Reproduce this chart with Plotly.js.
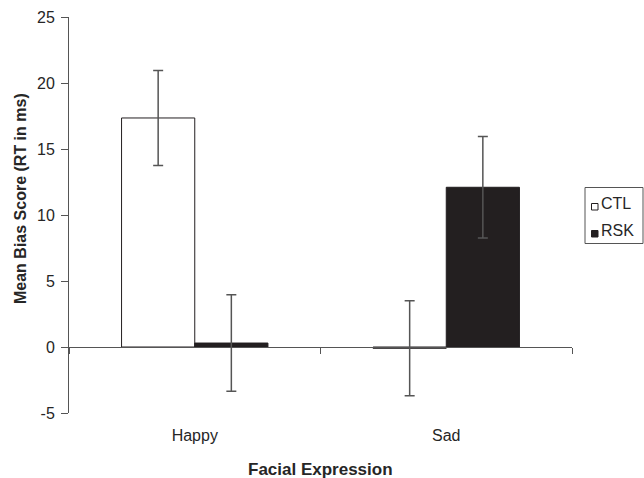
<!DOCTYPE html>
<html><head><meta charset="utf-8">
<script src="https://cdn.plot.ly/plotly-3.0.1.min.js"></script>
<style>html,body{margin:0;padding:0;background:#fff;}#chart{width:644px;height:478px;}</style>
</head><body><div id="chart"></div>
<script>
const categories = ["Happy", "Sad"];
const ctlValues = [17.35, -0.1];
const ctlErrors = [3.6, 3.6];
const rskValues = [0.3, 12.1];
const rskErrors = [3.65, 3.85];
const seriesNames = ["CTL", "RSK"];
const yTicks = [-5, 0, 5, 10, 15, 20, 25];
const xTitle = "Facial Expression";
const yTitle = "Mean Bias Score (RT in ms)";

const dark = '#231f20';
const axisCol = '#555555';
const fam = 'Liberation Sans, Arial, sans-serif';
const textCol = '#262626';

const W = 644, H = 478;
const M = {l: 69, r: 72, t: 17, b: 65};
const PW = W - M.l - M.r, PH = H - M.t - M.b;
const px = x => (x - M.l) / PW;
const py = y => (H - M.b - y) / PH;

const fills = ['#ffffff', dark];
const traces = [
  {type: 'bar', name: seriesNames[0], x: categories, y: ctlValues,
   marker: {color: fills[0], line: {color: dark, width: 1}},
   error_y: {type: 'data', array: ctlErrors, visible: true, color: axisCol, thickness: 1.5, width: 5}},
  {type: 'bar', name: seriesNames[1], x: categories, y: rskValues,
   marker: {color: fills[1], line: {color: dark, width: 1}},
   error_y: {type: 'data', array: rskErrors, visible: true, color: axisCol, thickness: 1.5, width: 5}}
];

const yMin = -5, yMax = 25;

// legend drawn as box + keys + labels
const legendRows = [203.5, 230.5];
const shapes = [
  {type: 'rect', xref: 'paper', yref: 'paper', x0: px(585), x1: px(643), y0: py(187.5), y1: py(243.5),
   line: {color: axisCol, width: 1}, fillcolor: 'rgba(0,0,0,0)', layer: 'above'}
];
const annotations = [
  {xref: 'paper', yref: 'paper', x: 0.5, y: py(469), xanchor: 'center', yanchor: 'middle',
   text: '<b>' + xTitle + '</b>', showarrow: false, font: {family: fam, size: 17, color: textCol}},
  {xref: 'paper', yref: 'paper', x: px(21), y: py(199), xanchor: 'center', yanchor: 'middle', textangle: -90,
   text: '<b>' + yTitle + '</b>', showarrow: false, font: {family: fam, size: 16, color: textCol}}
];
seriesNames.forEach((n, i) => {
  const cy = legendRows[i];
  shapes.push({type: 'rect', xref: 'paper', yref: 'paper', x0: px(591.5), x1: px(598), y0: py(cy), y1: py(cy + 6.5),
    line: {color: dark, width: 1}, fillcolor: fills[i], layer: 'above'});
  annotations.push({xref: 'paper', yref: 'paper', x: px(598.5), y: py(cy), xanchor: 'left', yanchor: 'middle',
    text: n, showarrow: false, font: {family: fam, size: 16, color: textCol}});
});

const layout = {
  width: W, height: H,
  margin: {l: M.l, r: M.r, t: M.t, b: M.b, pad: 0, autoexpand: false},
  paper_bgcolor: '#fff', plot_bgcolor: '#fff',
  font: {family: fam, size: 16, color: textCol},
  showlegend: false,
  barmode: 'group', bargap: 0.418, bargroupgap: 0,
  xaxis: {
    type: 'category', range: [-0.5, 1.5],
    anchor: 'free', position: (0 - yMin) / (yMax - yMin),
    showline: true, linecolor: axisCol, linewidth: 1,
    ticks: 'outside', tickson: 'boundaries', ticklen: 6, tickcolor: axisCol, tickwidth: 1,
    showticklabels: true, ticklabelstandoff: 74,
    tickfont: {family: fam, size: 16, color: textCol},
    showgrid: false, zeroline: false
  },
  yaxis: {
    range: [yMin, yMax], tickvals: yTicks, ticktext: yTicks.map(String),
    showline: true, linecolor: axisCol, linewidth: 1,
    ticks: 'outside', ticklen: 7, tickcolor: axisCol,
    ticklabelstandoff: 3,
    showgrid: false, zeroline: false,
    tickfont: {family: fam, size: 16, color: textCol}
  },
  shapes: shapes,
  annotations: annotations
};

Plotly.newPlot('chart', traces, layout, {displayModeBar: false, staticPlot: true});
</script></body></html>
